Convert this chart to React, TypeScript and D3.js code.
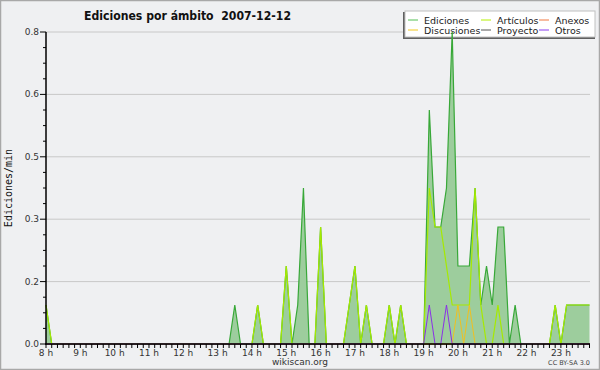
import React from "react";
import * as d3 from "d3";

// 10-minute bins from 08:00 to 23:50 (edits per minute)
const hourLabels = ["8 h", "9 h", "10 h", "11 h", "12 h", "13 h", "14 h", "15 h", "16 h", "17 h", "18 h", "19 h", "20 h", "21 h", "22 h", "23 h"];

const ediciones = [
  0.1, 0, 0, 0, 0, 0,
  0, 0, 0, 0, 0, 0,
  0, 0, 0, 0, 0, 0,
  0, 0, 0, 0, 0, 0,
  0, 0, 0, 0, 0, 0,
  0, 0, 0, 0.1, 0, 0,
  0, 0.1, 0, 0, 0, 0,
  0.2, 0, 0.1, 0.4, 0, 0,
  0.3, 0, 0, 0, 0, 0.1,
  0.2, 0, 0.1, 0, 0, 0,
  0.1, 0, 0.1, 0, 0, 0,
  0, 0.6, 0.3, 0.3, 0.4, 0.8,
  0.2, 0.2, 0.2, 0.4, 0.1, 0.2,
  0.1, 0.3, 0.3, 0, 0.1, 0,
  0, 0, 0, 0, 0, 0.1,
  0, 0.1, 0.1, 0.1, 0.1, 0.1,
];

const articulos = [
  0.1, 0, 0, 0, 0, 0,
  0, 0, 0, 0, 0, 0,
  0, 0, 0, 0, 0, 0,
  0, 0, 0, 0, 0, 0,
  0, 0, 0, 0, 0, 0,
  0, 0, 0, 0, 0, 0,
  0, 0.1, 0, 0, 0, 0,
  0.2, 0, 0, 0, 0, 0,
  0.3, 0, 0, 0, 0, 0.1,
  0.2, 0, 0.1, 0, 0, 0,
  0.1, 0, 0.1, 0, 0, 0,
  0, 0.4, 0.3, 0.3, 0.2, 0.1,
  0.1, 0.1, 0.1, 0.4, 0.1, 0,
  0, 0.1, 0, 0, 0, 0,
  0, 0, 0, 0, 0, 0.1,
  0, 0.1, 0.1, 0.1, 0.1, 0.1,
];

const anexos = [
  0, 0, 0, 0, 0, 0,  0, 0, 0, 0, 0, 0,  0, 0, 0, 0, 0, 0,  0, 0, 0, 0, 0, 0,
  0, 0, 0, 0, 0, 0,  0, 0, 0, 0, 0, 0,  0, 0, 0, 0, 0, 0,  0, 0, 0, 0, 0, 0,
  0, 0, 0, 0, 0, 0,  0, 0, 0, 0, 0, 0,  0, 0, 0, 0, 0, 0,  0, 0, 0, 0, 0, 0,
  0, 0, 0, 0, 0, 0,  0, 0, 0, 0, 0, 0,  0, 0, 0, 0, 0, 0,  0, 0, 0, 0, 0, 0,
];

const discusiones = [
  0, 0, 0, 0, 0, 0,  0, 0, 0, 0, 0, 0,  0, 0, 0, 0, 0, 0,  0, 0, 0, 0, 0, 0,
  0, 0, 0, 0, 0, 0,  0, 0, 0, 0, 0, 0,  0, 0, 0, 0, 0, 0,  0, 0, 0, 0, 0, 0,
  0, 0, 0, 0, 0, 0,  0, 0, 0, 0, 0, 0,  0, 0, 0, 0, 0, 0,  0, 0, 0, 0, 0, 0,
  0.1, 0, 0.1, 0, 0, 0,  0, 0, 0, 0, 0, 0,  0, 0, 0, 0, 0, 0,  0, 0, 0, 0, 0, 0,
];

const proyecto = [
  0, 0, 0, 0, 0, 0,  0, 0, 0, 0, 0, 0,  0, 0, 0, 0, 0, 0,  0, 0, 0, 0, 0, 0,
  0, 0, 0, 0, 0, 0,  0, 0, 0, 0, 0, 0,  0, 0, 0, 0, 0, 0,  0, 0, 0, 0, 0, 0,
  0, 0, 0, 0, 0, 0,  0, 0, 0, 0, 0, 0,  0, 0, 0, 0, 0, 0,  0, 0, 0, 0, 0, 0,
  0, 0, 0, 0, 0, 0,  0, 0, 0, 0, 0, 0,  0, 0, 0, 0, 0, 0,  0, 0, 0, 0, 0, 0,
];

const otros = [
  0, 0, 0, 0, 0, 0,  0, 0, 0, 0, 0, 0,  0, 0, 0, 0, 0, 0,  0, 0, 0, 0, 0, 0,
  0, 0, 0, 0, 0, 0,  0, 0, 0, 0, 0, 0,  0, 0, 0, 0, 0, 0,  0, 0, 0, 0, 0, 0,
  0, 0, 0, 0, 0, 0,  0, 0, 0, 0, 0, 0,  0, 0, 0, 0, 0, 0,  0, 0.1, 0, 0, 0.1, 0,
  0, 0, 0, 0, 0, 0,  0, 0, 0, 0, 0, 0,  0, 0, 0, 0, 0, 0,  0, 0, 0, 0, 0, 0,
];

const yMajorTicks = [0, 0.16, 0.32, 0.48, 0.64, 0.8];
const yMinorTicks = [0.04, 0.08, 0.12, 0.2, 0.24, 0.28, 0.36, 0.4, 0.44, 0.52, 0.56, 0.6, 0.68, 0.72, 0.76];

const legendNames = ["Ediciones", "Artículos", "Anexos", "Discusiones", "Proyecto", "Otros"];
const legendColors = ["#55c055", "#b4f000", "#f07840", "#f2c81e", "#555555", "#8a3cf0"];

export default function App() {
  const W = 600, H = 370;
  const x = d3.scaleLinear().domain([0, ediciones.length - 1]).range([46, 589.5]);
  const y = d3.scaleLinear().domain([0, 0.8]).range([344, 32]);
  const idx = d3.range(ediciones.length);

  const area = d3.area<number>().x((i) => x(i)).y0(y(0)).y1((i) => y(ediciones[i]));
  const lineOf = (arr: number[]) => d3.line<number>().x((i) => x(i)).y((i) => y(arr[i]))(idx) || "";
  const fmt = d3.format(".1f");

  const legendCols = [408, 481, 539];
  const legendRows = [20, 30];

  return (
    <div style={{ position: "fixed", left: 0, top: 0 }}>
      <svg width={W} height={H} style={{ display: "block" }} fontFamily="DejaVu Sans">
        <rect x={0} y={0} width={W} height={H} fill="#eff0f2" />
        <rect x={0.5} y={0.5} width={W - 1} height={H - 1} fill="none" stroke="#a8a8a8" strokeWidth={1.5} />

        {/* title */}
        <text x={84} y={20} fontSize={13} fontWeight="bold" fill="#111" textLength={207} lengthAdjust="spacingAndGlyphs">
          {"Ediciones por ámbito\u00a0\u00a02007-12-12"}
        </text>

        {/* grid */}
        {yMajorTicks.slice(1).map((t) => (
          <line key={"g" + t} x1={46} x2={590} y1={y(t)} y2={y(t)} stroke="#c8c8c8" strokeWidth={1} />
        ))}

        {/* legend */}
        <rect x={403} y={12} width={192} height={27} fill="#606060" />
        <rect x={405} y={11} width={190} height={26} fill="#ffffff" stroke="#c0c0c0" strokeWidth={1} />
        {legendNames.map((name, k) => {
          const c = k % 3, r = Math.floor(k / 3);
          return (
            <g key={name}>
              <line x1={legendCols[c]} x2={legendCols[c] + 10} y1={legendRows[r]} y2={legendRows[r]} stroke={legendColors[k]} strokeWidth={1} />
              <text x={legendCols[c] + 16} y={legendRows[r] + 3.5} fontSize={9.5} fill="#222">{name}</text>
            </g>
          );
        })}

        {/* data */}
        <path d={area(idx) || ""} fill="#9dcd9d" />
        <path d={lineOf(anexos)} fill="none" stroke="#f07840" strokeWidth={1} />
        <path d={lineOf(proyecto)} fill="none" stroke="#555555" strokeWidth={1} />
        <path d={lineOf(ediciones)} fill="none" stroke="#38a838" strokeWidth={1.2} />
        <path d={lineOf(articulos)} fill="none" stroke="#a6ea00" strokeWidth={1.2} />
        <path d={lineOf(discusiones)} fill="none" stroke="#f0c020" strokeWidth={1} />
        <path d={lineOf(otros)} fill="none" stroke="#8a30e8" strokeWidth={1} />

        {/* y axis */}
        <line x1={46} x2={46} y1={32} y2={344.5} stroke="#000" strokeWidth={1.5} />
        {yMajorTicks.map((t) => (
          <g key={"ym" + t}>
            <line x1={40} x2={46} y1={y(t)} y2={y(t)} stroke="#000" strokeWidth={1} />
            <text x={39} y={y(t) + 3} fontSize={9} textAnchor="end" fill="#333">{fmt(t)}</text>
          </g>
        ))}
        {yMinorTicks.map((t) => (
          <line key={"yn" + t} x1={43} x2={46} y1={y(t)} y2={y(t)} stroke="#000" strokeWidth={1} />
        ))}
        <text transform="translate(12,188) rotate(-90)" fontSize={10} fontFamily="DejaVu Sans Mono" textAnchor="middle" fill="#111">
          Ediciones/min
        </text>

        {/* x axis */}
        <line x1={45} x2={590} y1={344} y2={344} stroke="#000" strokeWidth={1.5} />
        {idx.map((i) => (
          <line key={"xt" + i} x1={x(i)} x2={x(i)} y1={344} y2={348} stroke="#000" strokeWidth={1} />
        ))}
        {hourLabels.map((lab, h) => (
          <text key={lab} x={x(h * 6)} y={356} fontSize={9} textAnchor="middle" fill="#333">{lab}</text>
        ))}
        <text x={300} y={365} fontSize={9} textAnchor="middle" fill="#333">wikiscan.org</text>
        <text x={590} y={365} fontSize={6.5} textAnchor="end" fill="#444">CC BY-SA 3.0</text>
      </svg>
    </div>
  );
}
